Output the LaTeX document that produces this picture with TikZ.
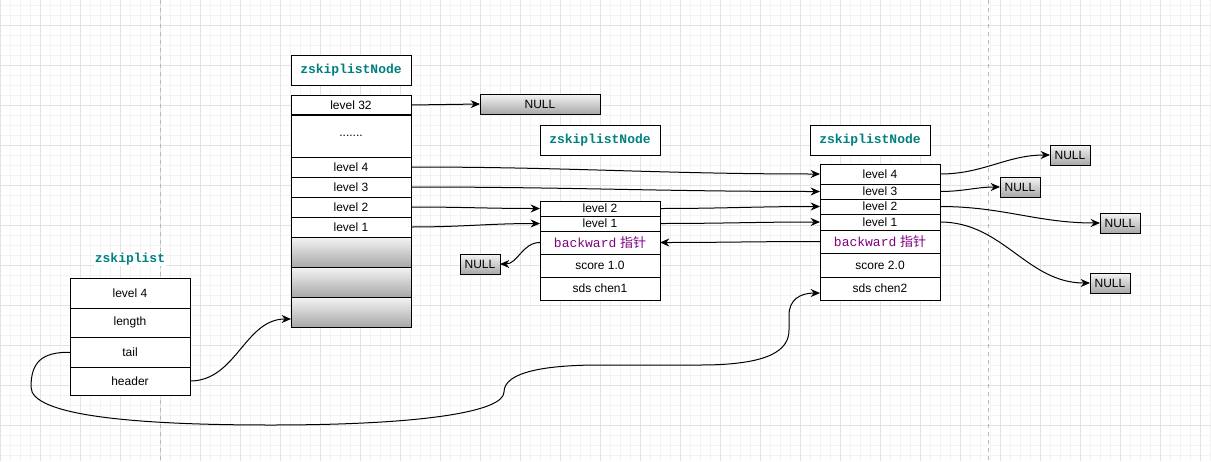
\documentclass[tikz,border=0pt]{standalone}
\usepackage{fontspec}
\setmainfont{Liberation Sans}
\newfontfamily\codefont{Liberation Mono}
\newfontfamily\cjkfont{Noto Sans CJK SC}
\usepackage{tikz}
\usetikzlibrary{
arrows.meta,
positioning
}
\definecolor{zsteal}{HTML}{008080}
\definecolor{zspurple}{HTML}{800080}
\definecolor{zsgridmaj}{HTML}{E2E2E2}
\definecolor{zsgridmin}{HTML}{F3F3F3}
\definecolor{zsbreak}{HTML}{B8B8B8}
\definecolor{zsnulltop}{HTML}{F4F4F4}
\definecolor{zsnullbot}{HTML}{A8A8A8}

\newcommand\zsbody{\fontsize{9pt}{10.5pt}\selectfont}
\newcommand\zstitle{\codefont\bfseries\fontsize{9.75pt}{11pt}\selectfont}
\newcommand\zsback{{\codefont backward} {\cjkfont 指针}}

\tikzset{
  cell/.style={draw, line width=0.75pt, fill=white, minimum width=90pt,
    minimum height=15pt, inner sep=0pt, outer sep=0pt, font=\zsbody},
  greycell/.style={cell, top color=zsnulltop, bottom color=zsnullbot},
  nullbox/.style={greycell, minimum width=30pt},
  titlebox/.style={cell, minimum height=22.5pt, text=zsteal, font=\zstitle},
  backcell/.style={cell, minimum height=17.25pt, text=zspurple,
    font=\fontsize{9.75pt}{11pt}\selectfont},
  link/.style={line width=0.75pt, -{Stealth[length=7pt,width=6pt]}},
  gridminor/.style={zsgridmin, line width=0.6pt},
  gridmajor/.style={zsgridmaj, line width=0.75pt},
  pagebreak/.style={zsbreak, dashed, line width=0.75pt}
}

\begin{document}
\begin{tikzpicture}[x=0.75pt, y=-0.75pt]

% Canvas and grid
\useasboundingbox (0,0) rectangle (1211,461);
\fill[white] (0,0) rectangle (1211,461);
\foreach \gx in {0,10,...,1210} \draw[gridminor] (\gx,0) -- (\gx,461);
\foreach \gy in {5,15,...,455} \draw[gridminor] (0,\gy) -- (1211,\gy);
\foreach \gx in {0,40,...,1200} \draw[gridmajor] (\gx,0) -- (\gx,461);
\foreach \gy in {25,65,...,425} \draw[gridmajor] (0,\gy) -- (1211,\gy);
\draw[pagebreak] (160,0) -- (160,461);
\draw[pagebreak] (988,0) -- (988,461);

% Header node
\node[titlebox, anchor=north west] (hdtitle) at (291,55) {zskiplistNode};
\node[cell, anchor=north west] (h32) at (291,95) {level 32};
\node[cell, below=0pt of h32, minimum height=31.5pt] (hdots) {.......};
\node[cell, below=0pt of hdots] (h4) {level 4};
\node[cell, below=0pt of h4] (h3) {level 3};
\node[cell, below=0pt of h3] (h2) {level 2};
\node[cell, below=0pt of h2] (h1) {level 1};
\node[greycell, below=0pt of h1, minimum height=22.5pt] (hg1) {};
\node[greycell, below=0pt of hg1, minimum height=22.5pt] (hg2) {};
\node[greycell, below=0pt of hg2, minimum height=22.5pt] (hg3) {};
\draw[line width=1.8pt] (h32.south west) -- (h32.south east);

\node[nullbox, minimum width=90pt, anchor=north west] (ntop) at (480,94) {NULL};

% Node score 1.0
\node[titlebox, anchor=north west] (mtitle) at (540,125) {zskiplistNode};
\node[cell, anchor=north west, minimum height=11.25pt] (m2) at (540,201) {level 2};
\node[cell, below=0pt of m2, minimum height=11.25pt] (m1) {level 1};
\node[backcell, below=0pt of m1] (mb) {\zsback};
\node[cell, below=0pt of mb, minimum height=17.25pt] (ms) {score 1.0};
\node[cell, below=0pt of ms, minimum height=17.25pt] (msds) {sds chen1};

\node[nullbox, anchor=north west] (nl) at (460,254) {NULL};

% Node score 2.0
\node[titlebox, anchor=north west] (rtitle) at (810,125) {zskiplistNode};
\node[cell, anchor=north west] (r4) at (820,164) {level 4};
\node[cell, below=0pt of r4, minimum height=11.25pt] (r3) {level 3};
\node[cell, below=0pt of r3, minimum height=11.25pt] (r2) {level 2};
\node[cell, below=0pt of r2, minimum height=12pt] (r1) {level 1};
\node[backcell, below=0pt of r1] (rb) {\zsback};
\node[cell, below=0pt of rb, minimum height=18pt] (rs) {score 2.0};
\node[cell, below=0pt of rs, minimum height=17.25pt] (rsds) {sds chen2};

\node[nullbox, anchor=north west] (n4) at (1050,145) {NULL};
\node[nullbox, anchor=north west] (n3) at (1000,177) {NULL};
\node[nullbox, anchor=north west] (n2) at (1100,213) {NULL};
\node[nullbox, anchor=north west] (n1) at (1090,273) {NULL};

% zskiplist
\node[font=\zstitle, text=zsteal, fill=white, inner sep=1pt] (ztitle) at (130,259) {zskiplist};
\node[cell, anchor=north west, minimum height=22.5pt] (zl4) at (70,278) {level 4};
\node[cell, below=0pt of zl4, minimum height=22.125pt] (zlen) {length};
\node[cell, below=0pt of zlen, minimum height=22.125pt] (ztail) {tail};
\node[cell, below=0pt of ztail, minimum height=21pt] (zhead) {header};

% Level pointers
\draw[link] (h32.east) -- (ntop.west);
\draw[link] (h4.east) to[out=0, in=180] (r4.west);
\draw[link] (h3.east) to[out=0, in=180] (r3.west);
\draw[link] (h2.east) to[out=0, in=180] (m2.west);
\draw[link] (h1.east) to[out=0, in=180] (m1.west);
\draw[link] (m2.east) to[out=0, in=180] (r2.west);
\draw[link] (m1.east) to[out=0, in=180] (r1.west);
\draw[link] (r4.east) to[out=0, in=180] (n4.west);
\draw[link] (r3.east) to[out=0, in=180] (n3.west);
\draw[link] (r2.east) to[out=0, in=180] (n2.west);
\draw[link] (r1.east) to[out=0, in=180] (n1.west);

% Backward pointers
\draw[link] (rb.west) to[out=180, in=0] (mb.east);
\draw[link] (mb.west) to[out=180, in=0] (nl.east);

% Header and tail
\draw[link] (zhead.east) to[out=0, in=180] ([yshift=-5.25pt]hg3.west);
\draw[link] (ztail.west) .. controls (42,352) and (31,362) .. (31,387)
  .. controls (31,415) and (130,425) .. (271,425)
  .. controls (420,425) and (504,412) .. (504,392)
  .. controls (504,372) and (545,365) .. (600,365)
  -- (700,365)
  .. controls (770,365) and (789,350) .. (789,330)
  -- (789,315)
  .. controls (789,300) and (800,293) .. ([yshift=-3.4pt]rsds.west);

\end{tikzpicture}
\end{document}
